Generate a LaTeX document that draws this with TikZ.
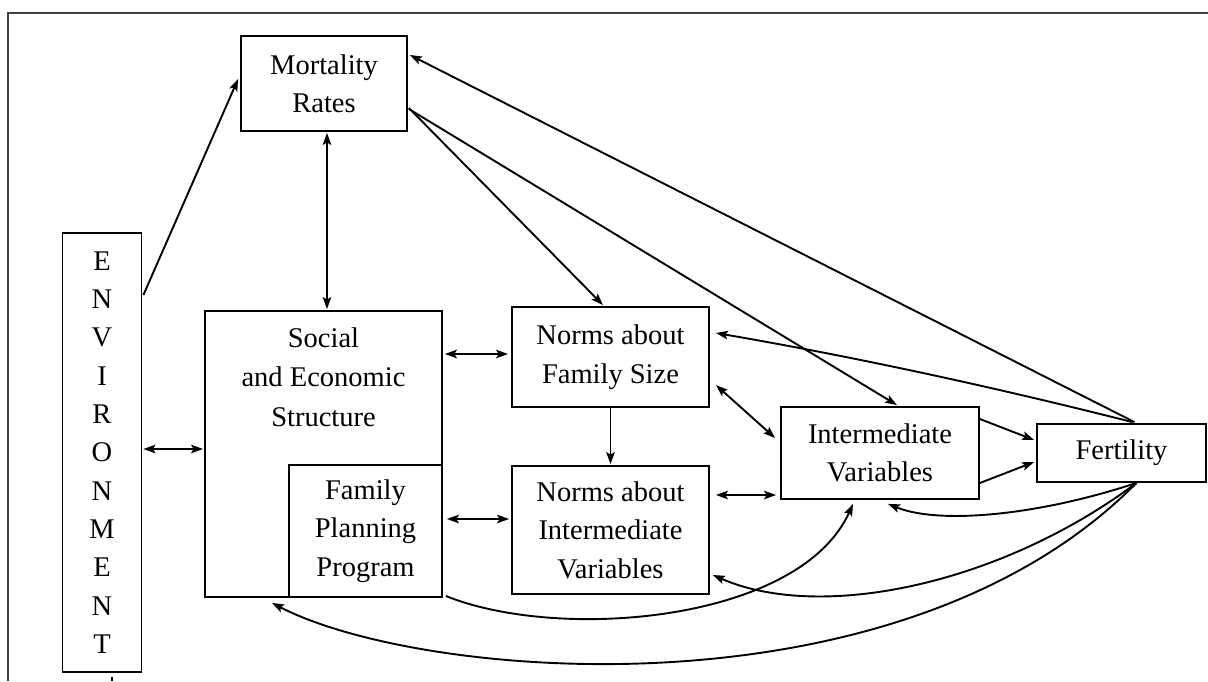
\documentclass[tikz,border=0pt]{standalone}
\usepackage{fontspec}
\setmainfont{Liberation Serif}
\usetikzlibrary{arrows.meta,calc}
\tikzset{
  >={Stealth[length=12pt,width=8.5pt,inset=2.5pt]},
  box/.style={draw, line width=1.8pt, inner sep=0pt, align=center,
    font=\fontsize{28.5}{38.5}\selectfont},
  lbl/.style={inner sep=0pt, align=center, font=\fontsize{28.5}{39.5}\selectfont},
  arr/.style={->, line width=1.9pt},
  both/.style={<->, line width=1.9pt},
  frame/.style={line width=1.5pt, draw=black!75},
}
\begin{document}
\begin{tikzpicture}[x=1pt,y=-1pt]
\useasboundingbox (0,0) rectangle (1208,681);
\draw[frame] (8,681) -- (8,13) -- (1208,13);

\node[box, minimum width=166pt, minimum height=95pt] (mort) at (324,83.5) {Mortality\\Rates};
\node[box, minimum width=79pt, minimum height=439pt, font=\fontsize{28.5}{38.3}\selectfont] (env) at (102,452.5)
  {E\\N\\V\\I\\R\\O\\N\\M\\E\\N\\T};
\node[box, minimum width=237pt, minimum height=286pt] (soc) at (323.5,454) {};
\node[lbl] (soctext) at (323.5,377) {Social\\and Economic\\Structure};
\node[box, minimum width=153pt, minimum height=132pt] (fp) at (365.5,531) {Family\\Planning\\Program};
\node[box, minimum width=197pt, minimum height=100pt] (nfs) at (610.5,357) {Norms about\\Family Size};
\node[box, minimum width=197pt, minimum height=128pt] (niv) at (610.5,530) {Norms about\\Intermediate\\Variables};
\node[box, minimum width=198pt, minimum height=92pt] (iv) at (880,453) {Intermediate\\Variables};
\node[box, minimum width=169pt, minimum height=58pt] (fert) at (1121.5,453) {Fertility};

\coordinate (tick) at (112,677);
\draw[line width=1.6pt] (tick) -- (112,681);

% straight connectors
\draw[arr] ($(env.east)+(1,-157.5)$) -- ($(mort.west)+(-2,-4.5)$);
\draw[both] ($(mort.south)+(3,1)$) -- ($(soc.north)+(3.5,-1)$);
\draw[both] ($(env.east)+(1,-3.5)$) -- ($(soc.west)+(-1,-5)$);
\draw[arr] ($(mort.east)+(1,24.5)$) -- ($(nfs.north)+(-7.5,-1)$);
\draw[arr] ($(mort.east)+(1,25.5)$) -- ($(iv.north)+(17,-1)$);
\draw[arr] ($(fert.north)+(13,-1)$) -- ($(mort.east)+(2,-28.5)$);
\draw[arr] ($(fert.north)+(11,-1)$) .. controls (990,386) and (850,356) .. ($(nfs.east)+(6,-24)$);
\draw[both] ($(nfs.east)+(6,28)$) -- ($(iv.west)+(-5,-15)$);
\draw[both] ($(soc.east)+(2,-100)$) -- ($(nfs.west)+(-3,-3)$);
\draw[both] ($(fp.east)+(4,-12)$) -- ($(niv.west)+(-2,-11)$);
\draw[arr] (nfs.south) -- ($(niv.north)+(0,-1)$);
\draw[both] ($(niv.east)+(6,-35)$) -- ($(iv.west)+(-4,42)$);
\draw[arr] ($(iv.east)+(0,-34)$) -- ($(fert.west)+(-2,-13)$);
\draw[arr] ($(iv.east)+(0,30)$) -- ($(fert.west)+(-2,9)$);

% curved connectors
\draw[arr] ($(fert.south)+(15,0)$) .. controls (1040,515) and (940,525) .. ($(iv.south)+(8,4)$);
\draw[arr] ($(fert.south)+(15,0)$) .. controls (1000,585) and (820,622) .. ($(niv.east)+(3,45)$);
\draw[arr] ($(fp.east)+(3,65)$) .. controls (560,642) and (800,622) .. ($(iv.south)+(-27,4)$);
\draw[arr] ($(fert.south)+(15,0)$) .. controls (900,722) and (420,680) .. ($(soc.south)+(-51.5,5)$);
\end{tikzpicture}
\end{document}
